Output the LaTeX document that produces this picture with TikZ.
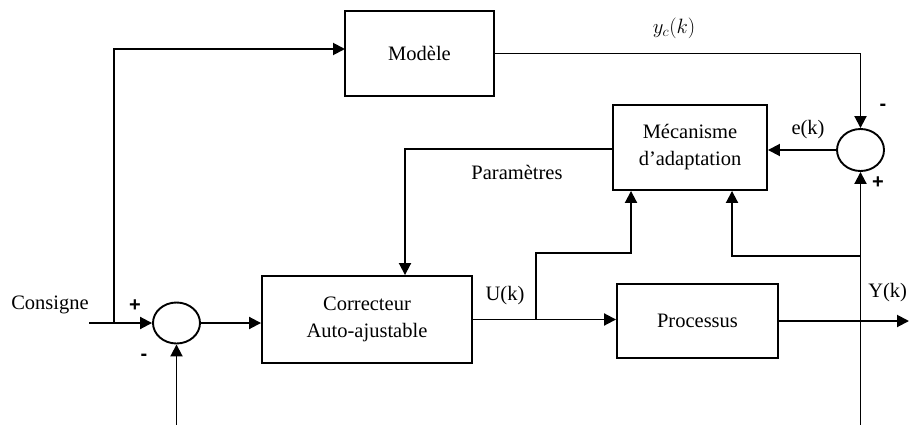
\documentclass[tikz,border=0pt]{standalone}
\usepackage{fontspec}
\setmainfont{Liberation Serif}
\newfontfamily\signfont{Liberation Sans}
\usetikzlibrary{arrows.meta,calc,shapes.geometric}
\begin{document}
\begin{tikzpicture}[x=1pt,y=-1pt,
  font=\fontsize{20.5}{27}\selectfont,
  line width=1.9pt,
  blk/.style={draw,rectangle,minimum width=#1,inner sep=0pt,align=center},
  sumn/.style={draw,ellipse,minimum width=47pt,minimum height=41pt,inner sep=0pt},
  arr/.style={-{Triangle[length=12pt,width=12pt]}},
  lbl/.style={inner sep=0pt},
  sgn/.style={inner sep=0pt,font=\signfont\bfseries\fontsize{20}{24}\selectfont}]
\useasboundingbox (0,0) rectangle (909,425);
% blocks
\node[blk=149pt,minimum height=85pt] (modele) at (419.5,53.5) {Modèle};
\node[blk=154pt,minimum height=85pt] (meca) at (690,147.5) {Mécanisme\\d’adaptation};
\node[blk=210pt,minimum height=87pt] (corr) at (367,319.5) {Correcteur\\Auto-ajustable};
\node[blk=161pt,minimum height=74pt] (proc) at (697.5,321) {Processus};
\node[sumn] (s1) at (176.5,323) {};
\node[sumn,minimum height=42pt] (s2) at (860.5,150) {};
% coordinates
\coordinate (cin) at (89,323);
\coordinate (b1) at (114,323);
\coordinate (min) at (345,49);
\coordinate (s1in) at (176.5,425);
\coordinate (fbin) at (860.5,425);
\coordinate (fb) at (860.5,256);
\coordinate (ub) at (536,319.5);
\coordinate (ub2) at (631,253);
\coordinate (ubx) at (631,0);
\coordinate (fbx) at (732,0);
\coordinate (yout) at (909,321);
\coordinate (pdown) at (405,149);
% connectors
\draw[arr] (cin) -- (s1.west);
\draw[arr] (b1) |- (min);
\draw[arr] (s1.east) -- (s1.east -| corr.west);
\draw[arr] (modele.east) -| (s2.north);
\draw[arr] (s2.west) -- (s2.west -| meca.east);
\draw[arr] (meca.west |- pdown) -| (corr.north -| pdown);
\draw[arr] (corr.east) -- (corr.east -| proc.west);
\draw[arr] (ub) |- (ub2) -- (ubx |- meca.south);
\draw[arr] (proc.east) -- (yout);
\draw[arr] (fbin) -- (s2.south);
\draw[arr] (fb) -| (fbx |- meca.south);
\draw[arr] (s1in) -- (s1.south);
% labels
\node[lbl] (lcons) at (50,305) {Consigne};
\node[sgn] (lp1) at (135,306) {+};
\node[sgn] (lm1) at (144,357) {-};
\node[lbl] (lpar) at (517,172) {Paramètres};
\node[lbl] (luk) at (505,296) {U(k)};
\node[lbl,anchor=east] (lyk) at (908,293) {Y(k)};
\node[lbl] (lyc) at (674,28) {$y_c(k)$};
\node[lbl] (lek) at (808,130) {e(k)};
\node[sgn] (lm2) at (883,107) {-};
\node[sgn] (lp2) at (878,183) {+};
\end{tikzpicture}
\end{document}
